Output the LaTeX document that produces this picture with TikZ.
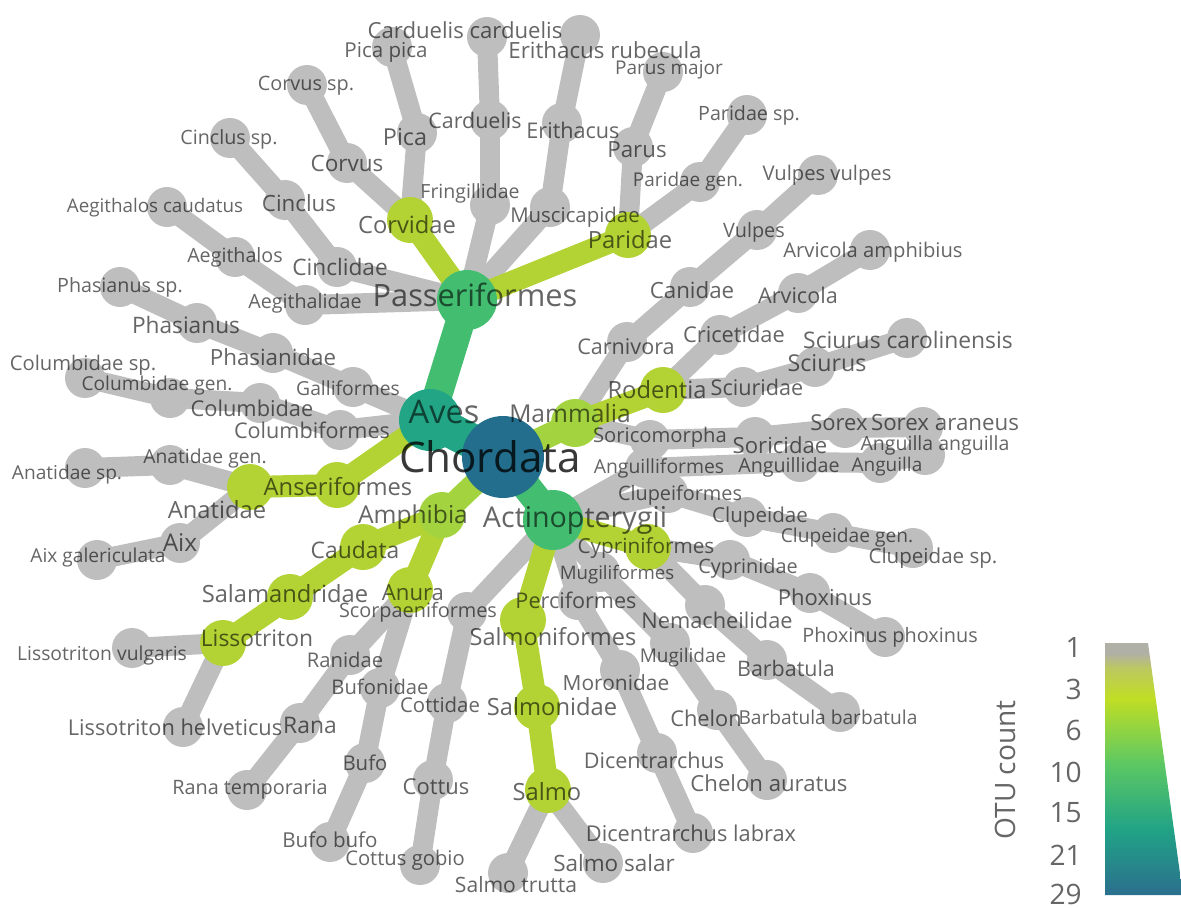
\documentclass[tikz,border=0pt]{standalone}
\usepackage{fontspec}
\setmainfont{Open Sans}
\definecolor{cgrey}{HTML}{BEBEBE}
\definecolor{cyg}{HTML}{B3D335}
\definecolor{cygb}{HTML}{A3D440}
\definecolor{cgreen}{HTML}{43BE71}
\definecolor{cteal}{HTML}{22A585}
\definecolor{cdark}{HTML}{226E8C}
\definecolor{lgtop}{HTML}{B0B0A6}
\definecolor{lgmix}{HTML}{BCC860}
\definecolor{lgy}{HTML}{C0DE24}
\definecolor{lgg}{HTML}{5CC863}
\definecolor{lgt}{HTML}{21A386}
\definecolor{lgd}{HTML}{2B6F8E}
\pgfdeclareverticalshading{otushade}{100bp}{color(0bp)=(lgd); color(25bp)=(lgd); color(38bp)=(lgt); color(51bp)=(lgg); color(64bp)=(lgy); color(70bp)=(lgmix); color(73bp)=(lgtop); color(100bp)=(lgtop)}
\pgfdeclarelayer{edges}
\pgfsetlayers{edges,main}
\tikzset{
  bub/.style={circle, inner sep=0pt, minimum size=#1},
  gnode/.style={bub=0.8cm, fill=cgrey},
  ynode/.style={bub=0.92cm, fill=cyg},
  ge/.style={draw=cgrey, line width=0.4cm},
  ye/.style={draw=cyg, line width=0.44cm},
  lb/.style={text=black, text opacity=0.6, inner sep=0pt},
  fs/.style={font=\fontsize{#1pt}{#1pt}\selectfont},
}
\newcommand\mkG[2]{\node[gnode] (#1) at (#2) {};}
\newcommand\mkY[2]{\node[ynode] (#1) at (#2) {};}
\newcommand\mkL[4]{\node[lb,fs=#3] (t#1) at (#2) {#4};}
\begin{document}
\begin{tikzpicture}[x=0.02cm,y=-0.02cm]
\useasboundingbox (0,0) rectangle (1181,907);
% ---------- main nodes
\node[bub=1.64cm, fill=cdark] (chordata) at (503,457) {};
\node[bub=1.24cm, fill=cteal] (aves) at (430,420) {};
\node[bub=0.96cm, fill=cygb] (mammalia) at (575,423) {};
\node[bub=1.2cm, fill=cgreen] (actino) at (553,520) {};
\node[bub=0.92cm, fill=cygb] (amphibia) at (442,515) {};
\node[bub=1.2cm, fill=cgreen] (passeriformes) at (467,300) {};
% yellow-green
\mkY{corvidae}{410,220}
\mkY{paridae}{628,235}
\mkY{anseriformes}{337,485}
\mkY{anatidae}{250,487}
\mkY{rodentia}{663,390}
\mkY{cypriniformes}{648,547}
\mkY{salmoniformes}{523,620}
\mkY{salmonidae}{537,707}
\mkY{salmo}{548,790}
\mkY{caudata}{363,547}
\mkY{salamandridae}{290,597}
\mkY{lissotriton}{223,643}
\mkY{anura}{410,590}
% grey
\mkG{galliformes}{353,387}
\mkG{columbiformes}{340,430}
\mkG{fringillidae}{490,205}
\mkG{muscicapidae}{550,207}
\mkG{cinclidae}{337,267}
\mkG{aegithalidae}{305,305}
\mkG{corvus}{347,163}
\mkG{corvussp}{307,85}
\mkG{pica}{417,133}
\mkG{picapica}{392,47}
\mkG{carduelis}{490,120}
\mkG{cardcard}{487,37}
\mkG{erithacus}{562,123}
\mkG{erirub}{580,35}
\mkG{parus}{633,147}
\mkG{parusmajor}{663,72}
\mkG{paridaegen}{700,182}
\mkG{paridaesp}{747,115}
\mkG{cinclus}{285,200}
\mkG{cinclussp}{230,138}
\mkG{aegithalos}{235,257}
\mkG{aegcaud}{167,207}
\mkG{phasianidae}{273,353}
\mkG{phasianus}{197,323}
\mkG{phasianussp}{120,287}
\mkG{columbidae}{260,403}
\mkG{columbidaegen}{170,398}
\mkG{columbidaesp}{85,378}
\mkG{anatidaegen}{170,465}
\mkG{anatidaesp}{85,468}
\mkG{aix}{180,543}
\mkG{aixgal}{97,560}
\mkG{carnivora}{627,342}
\mkG{canidae}{690,287}
\mkG{vulpes}{757,230}
\mkG{vulpesvulpes}{818,175}
\mkG{cricetidae}{720,335}
\mkG{arvicola}{798,293}
\mkG{arvamph}{870,250}
\mkG{sciuridae}{743,387}
\mkG{sciurus}{815,367}
\mkG{sciucar}{907,338}
\mkG{soricomorpha}{650,440}
\mkG{soricidae}{755,437}
\mkG{sorex}{845,428}
\mkG{sorexaraneus}{923,427}
\mkG{anguilliformes}{645,468}
\mkG{anguillidae}{800,462}
\mkG{anguilla}{880,463}
\mkG{anganguilla}{925,455}
\mkG{clupeiformes}{668,493}
\mkG{clupeidae}{747,517}
\mkG{clupeidaegen}{833,533}
\mkG{clupeidaesp}{913,548}
\mkG{cyprinidae}{730,560}
\mkG{phoxinus}{810,593}
\mkG{phoxphox}{885,637}
\mkG{nemacheilidae}{705,605}
\mkG{barbatula}{767,660}
\mkG{barbbarb}{840,712}
\mkG{mugiliformes}{600,572}
\mkG{mugilidae}{670,643}
\mkG{chelon}{717,710}
\mkG{chelonaur}{767,780}
\mkG{perciformes}{578,600}
\mkG{moronidae}{620,670}
\mkG{dicentrarchus}{657,753}
\mkG{diclabrax}{693,833}
\mkG{salmotrutta}{508,873}
\mkG{salmosalar}{603,863}
\mkG{scorpaeniformes}{467,612}
\mkG{cottidae}{447,703}
\mkG{cottus}{433,780}
\mkG{cottusgobio}{420,865}
\mkG{lissvulg}{132,648}
\mkG{lisshelv}{183,727}
\mkG{ranidae}{350,655}
\mkG{bufonidae}{380,688}
\mkG{rana}{300,723}
\mkG{ranatemp}{247,790}
\mkG{bufo}{365,763}
\mkG{bufobufo}{330,842}
% ---------- edges
\begin{pgfonlayer}{edges}
\foreach \a/\b in {aves/galliformes, aves/columbiformes,
 galliformes/phasianidae, phasianidae/phasianus, phasianus/phasianussp,
 columbiformes/columbidae, columbidae/columbidaegen, columbidaegen/columbidaesp,
 anatidae/anatidaegen, anatidaegen/anatidaesp, anatidae/aix, aix/aixgal,
 passeriformes/fringillidae, passeriformes/muscicapidae, passeriformes/cinclidae, passeriformes/aegithalidae,
 corvidae/corvus, corvus/corvussp, corvidae/pica, pica/picapica,
 fringillidae/carduelis, carduelis/cardcard,
 muscicapidae/erithacus, erithacus/erirub,
 paridae/parus, parus/parusmajor, paridae/paridaegen, paridaegen/paridaesp,
 cinclidae/cinclus, cinclus/cinclussp,
 aegithalidae/aegithalos, aegithalos/aegcaud,
 mammalia/carnivora, carnivora/canidae, canidae/vulpes, vulpes/vulpesvulpes,
 rodentia/cricetidae, cricetidae/arvicola, arvicola/arvamph,
 rodentia/sciuridae, sciuridae/sciurus, sciurus/sciucar,
 mammalia/soricomorpha, soricomorpha/soricidae, soricidae/sorex, sorex/sorexaraneus,
 actino/anguilliformes, anguilliformes/anguillidae, anguillidae/anguilla, anguilla/anganguilla,
 actino/clupeiformes, clupeiformes/clupeidae, clupeidae/clupeidaegen, clupeidaegen/clupeidaesp,
 cypriniformes/cyprinidae, cyprinidae/phoxinus, phoxinus/phoxphox,
 cypriniformes/nemacheilidae, nemacheilidae/barbatula, barbatula/barbbarb,
 actino/mugiliformes, mugiliformes/mugilidae, mugilidae/chelon, chelon/chelonaur,
 actino/perciformes, perciformes/moronidae, moronidae/dicentrarchus, dicentrarchus/diclabrax,
 salmo/salmotrutta, salmo/salmosalar,
 actino/scorpaeniformes, scorpaeniformes/cottidae, cottidae/cottus, cottus/cottusgobio,
 lissotriton/lissvulg, lissotriton/lisshelv,
 anura/ranidae, ranidae/rana, rana/ranatemp,
 anura/bufonidae, bufonidae/bufo, bufo/bufobufo}
 \draw[ge] (\a.center) -- (\b.center);
\foreach \a/\b in {mammalia/rodentia, aves/anseriformes, anseriformes/anatidae,
 passeriformes/corvidae, passeriformes/paridae, amphibia/caudata, caudata/salamandridae,
 salamandridae/lissotriton, amphibia/anura, actino/cypriniformes, actino/salmoniformes,
 salmoniformes/salmonidae, salmonidae/salmo}
 \draw[ye] (\a.center) -- (\b.center);
\draw[draw=cygb, line width=0.48cm] (chordata.center) -- (mammalia.center);
\draw[draw=cygb, line width=0.46cm] (chordata.center) -- (amphibia.center);
\draw[draw=cgreen, line width=0.58cm] (aves.center) -- (passeriformes.center);
\draw[draw=cgreen, line width=0.58cm] (chordata.center) -- (actino.center);
\draw[draw=cteal, line width=0.7cm] (chordata.center) -- (aves.center);
\end{pgfonlayer}
% ---------- labels
\node[lb, fs=24, text opacity=0.78] (tchordata) at (490,457) {Chordata};
\mkL{aves}{444,412}{18.5}{Aves}
\mkL{passeriformes}{475,295}{17.5}{Passeriformes}
\mkL{actino}{575,520}{16.3}{Actinopterygii}
\mkL{mammalia}{570,413}{14}{Mammalia}
\mkL{amphibia}{413,517}{14}{Amphibia}
\mkL{rodentia}{657,390}{13.5}{Rodentia}
\mkL{anseriformes}{338,487}{13.5}{Anseriformes}
\mkL{corvidae}{407,225}{13.5}{Corvidae}
\mkL{paridae}{630,240}{13.5}{Paridae}
\mkL{caudata}{355,550}{13}{Caudata}
\mkL{salamandridae}{285,594}{13.5}{Salamandridae}
\mkL{lissotriton}{257,638}{13}{Lissotriton}
\mkL{anura}{413,593}{12.6}{Anura}
\mkL{salmoniformes}{553,637}{13.4}{Salmoniformes}
\mkL{salmonidae}{552,707}{13.5}{Salmonidae}
\mkL{salmo}{547,792}{13.5}{Salmo}
\mkL{cypriniformes}{646,548}{11.8}{Cypriniformes}
\mkL{anatidae}{217,510}{13.5}{Anatidae}
\mkL{galliformes}{348,388}{11}{Galliformes}
\mkL{columbiformes}{312,430}{12.3}{Columbiformes}
\mkL{fringillidae}{470,193}{11.1}{Fringillidae}
\mkL{muscicapidae}{575,217}{11.6}{Muscicapidae}
\mkL{cinclidae}{340,267}{12.9}{Cinclidae}
\mkL{aegithalidae}{305,303}{11.2}{Aegithalidae}
\mkL{corvus}{347,163}{12.8}{Corvus}
\mkL{corvussp}{306,86}{11.3}{Corvus sp.}
\mkL{pica}{405,137}{13.3}{Pica}
\mkL{picapica}{386,52}{11.7}{Pica pica}
\mkL{carduelis}{475,120}{12.2}{Carduelis}
\mkL{cardcard}{465,30}{12.6}{Carduelis carduelis}
\mkL{erithacus}{573,130}{12.3}{Erithacus}
\mkL{erirub}{605,50}{12.7}{Erithacus rubecula}
\mkL{parus}{637,150}{12.7}{Parus}
\mkL{parusmajor}{669,70}{10.8}{Parus major}
\mkL{paridaegen}{688,182}{10.8}{Paridae gen.}
\mkL{paridaesp}{749,115}{11.2}{Paridae sp.}
\mkL{cinclus}{299,203}{12.7}{Cinclus}
\mkL{cinclussp}{229,139}{11.2}{Cinclus sp.}
\mkL{aegithalos}{235,257}{11.2}{Aegithalos}
\mkL{aegcaud}{155,208}{10.7}{Aegithalos caudatus}
\mkL{phasianidae}{273,357}{12.7}{Phasianidae}
\mkL{phasianus}{186,325}{12.9}{Phasianus}
\mkL{phasianussp}{120,287}{11.2}{Phasianus sp.}
\mkL{columbidae}{252,408}{12.4}{Columbidae}
\mkL{columbidaegen}{157,386}{10.9}{Columbidae gen.}
\mkL{columbidaesp}{83,365}{11.5}{Columbidae sp.}
\mkL{anatidaegen}{205,458}{11}{Anatidae gen.}
\mkL{anatidaesp}{67,475}{10.9}{Anatidae sp.}
\mkL{aix}{180,543}{13.9}{Aix}
\mkL{aixgal}{98,558}{10.9}{Aix galericulata}
\mkL{carnivora}{626,347}{12.3}{Carnivora}
\mkL{canidae}{692,290}{12.7}{Canidae}
\mkL{vulpes}{754,232}{11.3}{Vulpes}
\mkL{vulpesvulpes}{827,175}{11.5}{Vulpes vulpes}
\mkL{cricetidae}{734,334}{12.4}{Cricetidae}
\mkL{arvicola}{798,295}{12.3}{Arvicola}
\mkL{arvamph}{873,252}{11.5}{Arvicola amphibius}
\mkL{sciuridae}{757,387}{12.3}{Sciuridae}
\mkL{sciurus}{827,363}{13.2}{Sciurus}
\mkL{sciucar}{908,340}{13}{Sciurus carolinensis}
\mkL{soricomorpha}{660,437}{11.5}{Soricomorpha}
\mkL{soricidae}{780,445}{12.6}{Soricidae}
\mkL{sorex}{839,423}{12.5}{Sorex}
\mkL{sorexaraneus}{945,423}{12.7}{Sorex araneus}
\mkL{anguilliformes}{659,468}{11}{Anguilliformes}
\mkL{anguillidae}{789,467}{11.2}{Anguillidae}
\mkL{anguilla}{887,467}{10.8}{Anguilla}
\mkL{anganguilla}{935,445}{11.1}{Anguilla anguilla}
\mkL{clupeiformes}{680,495}{11.3}{Clupeiformes}
\mkL{clupeidae}{760,517}{11.7}{Clupeidae}
\mkL{clupeidaegen}{847,538}{10.9}{Clupeidae gen.}
\mkL{clupeidaesp}{933,558}{11.7}{Clupeidae sp.}
\mkL{cyprinidae}{748,568}{11.3}{Cyprinidae}
\mkL{phoxinus}{825,597}{12.5}{Phoxinus}
\mkL{phoxphox}{890,637}{11.3}{Phoxinus phoxinus}
\mkL{nemacheilidae}{717,620}{12.4}{Nemacheilidae}
\mkL{barbatula}{786,668}{12.2}{Barbatula}
\mkL{barbbarb}{828,717}{10.9}{Barbatula barbatula}
\mkL{mugiliformes}{617,575}{10.6}{Mugiliformes}
\mkL{mugilidae}{683,658}{10.8}{Mugilidae}
\mkL{chelon}{706,718}{12.4}{Chelon}
\mkL{chelonaur}{769,783}{12.6}{Chelon auratus}
\mkL{perciformes}{576,600}{12.3}{Perciformes}
\mkL{moronidae}{616,683}{11.9}{Moronidae}
\mkL{dicentrarchus}{654,760}{12.3}{Dicentrarchus}
\mkL{diclabrax}{691,833}{12.4}{Dicentrarchus labrax}
\mkL{salmotrutta}{516,885}{12}{Salmo trutta}
\mkL{salmosalar}{614,863}{12.8}{Salmo salar}
\mkL{scorpaeniformes}{418,612}{11.3}{Scorpaeniformes}
\mkL{cottidae}{440,705}{11.6}{Cottidae}
\mkL{cottus}{436,787}{12.5}{Cottus}
\mkL{cottusgobio}{405,860}{11.5}{Cottus gobio}
\mkL{lissvulg}{102,655}{11}{Lissotriton vulgaris}
\mkL{lisshelv}{175,727}{12.4}{Lissotriton helveticus}
\mkL{ranidae}{345,660}{11.5}{Ranidae}
\mkL{bufonidae}{380,687}{11.5}{Bufonidae}
\mkL{rana}{310,725}{13}{Rana}
\mkL{ranatemp}{250,790}{11.3}{Rana temporaria}
\mkL{bufo}{365,763}{11.6}{Bufo}
\mkL{bufobufo}{330,840}{11.7}{Bufo bufo}
% ---------- legend
\shade[shading=otushade] (1105,643) -- (1148,643) -- (1183,895) -- (1105,895) -- cycle;
\foreach \v/\yy in {1/647,3/689,6/730,10/772,15/813,21/855,29/894}
  \node[lb, fs=16, anchor=east] (leg\v) at (1082,\yy) {\v};
\node[lb, fs=16, rotate=90] (legtitle) at (1005,770) {OTU count};
\end{tikzpicture}
\end{document}
